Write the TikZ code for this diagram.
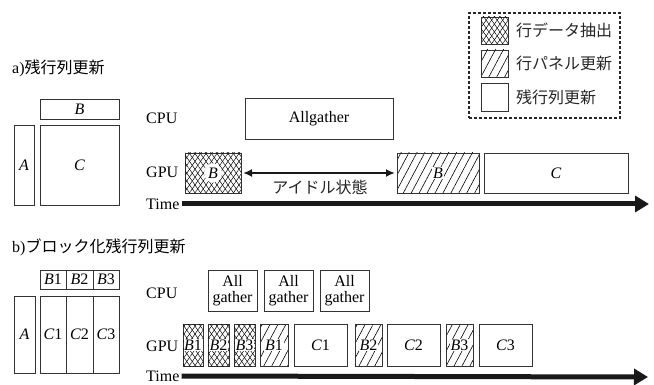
\documentclass[tikz,border=0pt]{standalone}
\usepackage{fontspec}
\setmainfont{Liberation Serif}
\newfontfamily\jp{Noto Sans CJK JP}
\usetikzlibrary{patterns.meta,arrows.meta,shapes.geometric}
\newcommand\myfs{\fontsize{16}{19}\selectfont}
\tikzset{
  box/.style={draw=black!80, line width=0.8pt, inner sep=0pt, outer sep=0pt, rectangle},
  cross/.style={box, pattern={Lines[angle=55,distance=4.5pt,line width=0.5pt]},
    postaction={pattern={Lines[angle=-55,distance=4.5pt,line width=0.5pt]}}},
  hatch/.style={box, pattern={Lines[angle=62,distance=7pt,line width=0.6pt]}},
  txt/.style={font=\myfs, inner sep=0pt},
  jtxt/.style={font=\myfs\jp, inner sep=0pt, text=black!85},
  mlab/.style={font=\myfs\itshape, fill=white, inner sep=1.2pt},
  plab/.style={font=\myfs\itshape, inner sep=0pt},
  tarrow/.style={line width=5pt, draw=black!90, -{Triangle[length=14pt,width=16pt]}},
}
\begin{document}
\begin{tikzpicture}[x=1pt,y=-1pt]
\useasboundingbox (0,0) rectangle (654,385);

% ---------- legend ----------
\node[draw=black!85, line width=1.2pt, dash pattern=on 3pt off 2pt, inner sep=0pt,
  minimum width=151pt, minimum height=105pt] (legend) at (544.5,65.5) {};
\node[cross, minimum width=27pt, minimum height=27pt] (sq1) at (494.5,30.5) {};
\node[hatch, minimum width=27pt, minimum height=27pt] (sq2) at (494.5,63.5) {};
\node[box, minimum width=27pt, minimum height=28pt] (sq3) at (494.5,97.5) {};
\node[jtxt, anchor=west] (lt1) at (516,30.5) {行データ抽出};
\node[jtxt, anchor=west] (lt2) at (516,63.5) {行パネル更新};
\node[jtxt, anchor=west] (lt3) at (516,97.5) {残行列更新};

% ---------- a) ----------
\node[txt, anchor=west] (alabel) at (12,68) {a)\jp 残行列更新};
\node[box, minimum width=79pt, minimum height=20pt, plab] (Ba) at (79.5,109) {B};
\node[box, minimum width=20pt, minimum height=80pt, plab] (Aa) at (24,165.5) {A};
\node[box, minimum width=79pt, minimum height=80pt, plab] (Ca) at (79.5,165.5) {C};

\node[txt, anchor=west] (cpuA) at (146,118) {CPU};
\node[box, minimum width=148pt, minimum height=41pt, txt] (agA) at (319,118.5) {Allgather};
\node[txt, anchor=west] (gpuA) at (146,172) {GPU};
\node[cross, minimum width=56pt, minimum height=40pt] (g1) at (213,173) {};
\node[mlab, ellipse, inner sep=1.5pt] at (g1) {B};
\node[hatch, minimum width=82pt, minimum height=40pt] (h1) at (438,173) {};
\node[mlab] at (h1) {B};
\node[box, minimum width=144pt, minimum height=40pt, plab] (c1) at (556,173) {C};
\draw[line width=2.2pt, draw=black!90, {Latex[length=9pt,width=8pt]}-{Latex[length=9pt,width=8pt]},
  shorten <=2pt, shorten >=2pt] (g1.east) -- (h1.west);
\node[jtxt] (idle) at (320,187) {アイドル状態};
\node[txt, anchor=west] (timeA) at (146,204) {Time};
\coordinate (endA) at (649,204);
\draw[tarrow] ([xshift=2pt]timeA.east) -- (endA);

% ---------- b) ----------
\node[txt, anchor=west] (blabel) at (12,247) {b)\jp ブロック化残行列更新};
\node[box, minimum width=26pt, minimum height=19pt, font=\myfs] (B1b) at (53,279.5) {\textit{B}1};
\node[box, minimum width=27pt, minimum height=19pt, font=\myfs] (B2b) at (79.5,279.5) {\textit{B}2};
\node[box, minimum width=26pt, minimum height=19pt, font=\myfs] (B3b) at (106,279.5) {\textit{B}3};
\node[box, minimum width=21pt, minimum height=77pt, plab] (Ab) at (24.5,334.5) {A};
\node[box, minimum width=26pt, minimum height=77pt, font=\myfs] (C1b) at (53,334.5) {\textit{C}1};
\node[box, minimum width=27pt, minimum height=77pt, font=\myfs] (C2b) at (79.5,334.5) {\textit{C}2};
\node[box, minimum width=26pt, minimum height=77pt, font=\myfs] (C3b) at (106,334.5) {\textit{C}3};

\node[txt, anchor=west] (cpuB) at (146,293) {CPU};
\foreach \n/\x in {ag1/232.5, ag2/288.5, ag3/344.5}{
  \node[box, minimum width=49pt, minimum height=41pt, font=\myfs, align=center] (\n) at (\x,290.5)
    {All\\[-3pt]gather};
}
\node[txt, anchor=west] (gpuB) at (146,346) {GPU};
\node[cross, minimum width=20pt, minimum height=42pt] (xb1) at (193,345) {};
\node[cross, minimum width=21pt, minimum height=42pt] (xb2) at (218.5,345) {};
\node[cross, minimum width=21pt, minimum height=42pt] (xb3) at (244.5,345) {};
\node[hatch, minimum width=28pt, minimum height=42pt] (hb1) at (274,345) {};
\node[box, minimum width=53pt, minimum height=42pt, font=\myfs] (cb1) at (320.5,345) {\textit{C}1};
\node[hatch, minimum width=27pt, minimum height=42pt] (hb2) at (368.5,345) {};
\node[box, minimum width=53pt, minimum height=42pt, font=\myfs] (cb2) at (413.5,345) {\textit{C}2};
\node[hatch, minimum width=27pt, minimum height=42pt] (hb3) at (459.5,345) {};
\node[box, minimum width=53pt, minimum height=42pt, font=\myfs] (cb3) at (505.5,345) {\textit{C}3};
\foreach \n/\k in {xb1/1, xb2/2, xb3/3}{
  \node[font=\myfs, fill=white, inner sep=0.5pt, minimum width=19pt] at (\n) {\textit{B}\k};
}
\foreach \n/\k in {hb1/1, hb2/2, hb3/3}{
  \node[font=\myfs, fill=white, inner sep=0.8pt] at (\n) {\textit{B}\k};
}
\node[txt, anchor=west] (timeB) at (146,376) {Time};
\coordinate (endB) at (648,377);
\draw[tarrow] ([xshift=2pt]timeB.east) -- (endB);
\end{tikzpicture}
\end{document}
